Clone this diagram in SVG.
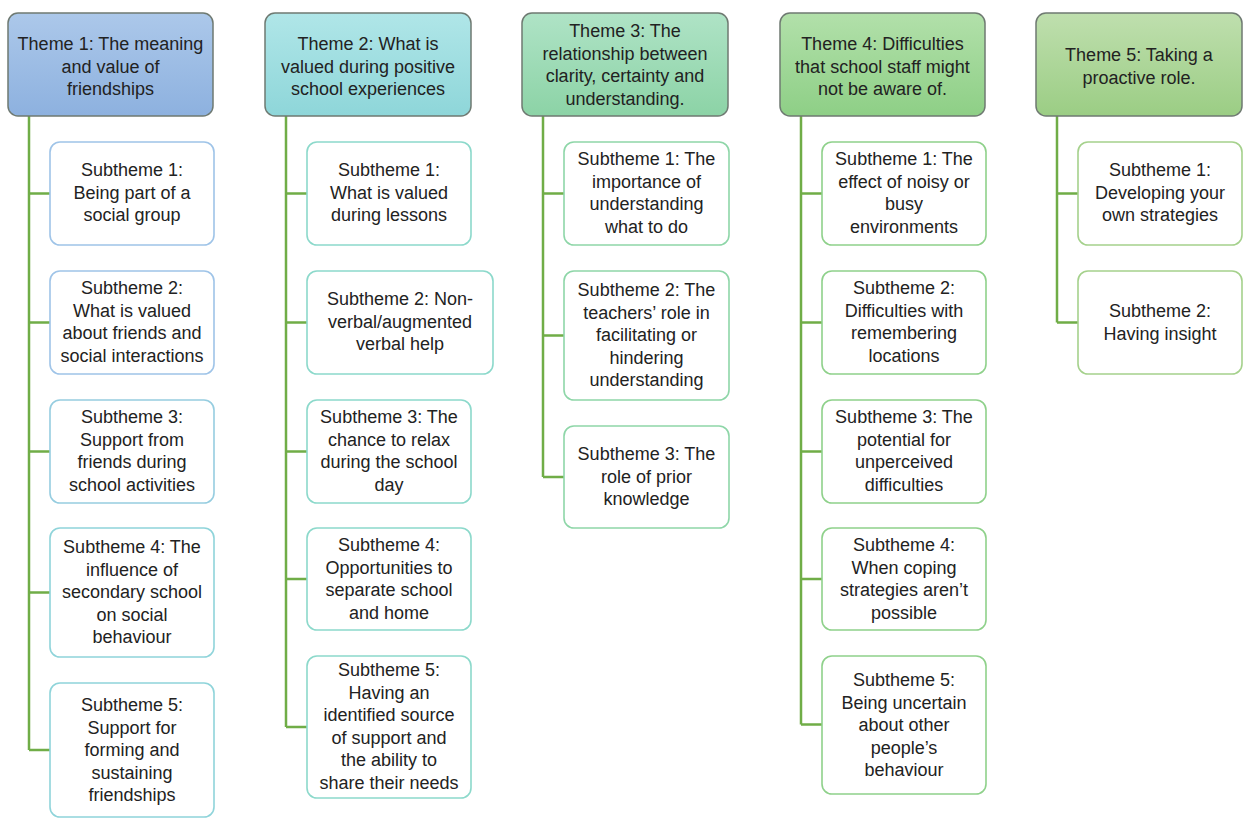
<svg xmlns="http://www.w3.org/2000/svg" width="1246" height="818" viewBox="0 0 1246 818">
<defs>
<linearGradient id="g1" x1="0" y1="0" x2="0" y2="1"><stop offset="0" stop-color="#acc8ea"/><stop offset="1" stop-color="#8db1df"/></linearGradient>
<linearGradient id="g2" x1="0" y1="0" x2="0" y2="1"><stop offset="0" stop-color="#b0e6e8"/><stop offset="1" stop-color="#8ed6d9"/></linearGradient>
<linearGradient id="g3" x1="0" y1="0" x2="0" y2="1"><stop offset="0" stop-color="#afe3c6"/><stop offset="1" stop-color="#8cd3a6"/></linearGradient>
<linearGradient id="g4" x1="0" y1="0" x2="0" y2="1"><stop offset="0" stop-color="#b2e0aa"/><stop offset="1" stop-color="#8ecf86"/></linearGradient>
<linearGradient id="g5" x1="0" y1="0" x2="0" y2="1"><stop offset="0" stop-color="#bfdfae"/><stop offset="1" stop-color="#9bcd84"/></linearGradient>
</defs>
<style>
text{font-family:"Liberation Sans",Arial,sans-serif;font-size:18px;fill:#222;text-anchor:middle}
.th{stroke:#6f7a72;stroke-width:1.5}
.st{fill:#fff;stroke-width:1.6}
.c1{stroke:#9fc4e8}.c1b{stroke:#96cde0}.c1c{stroke:#8fd4da}
.c2{stroke:#8cd9cb}.c3{stroke:#8ed6a8}.c4{stroke:#8fd18b}.c5{stroke:#a5d18c}
.conn{fill:none;stroke:#70ad47;stroke-width:2.5}
</style>
<g id="connectors">
<path class="conn" d="M29 116V750M29 193.5H50M29 322.5H50M29 451.5H50M29 592.5H50M29 750H50"/>
<path class="conn" d="M286 116V727M286 193.5H307M286 322.5H307M286 451.5H307M286 579H307M286 727H307"/>
<path class="conn" d="M543 116V477M543 193.5H564M543 335.5H564M543 477H564"/>
<path class="conn" d="M801 116V724.5M801 193.5H822M801 322.5H822M801 451.5H822M801 579H822M801 724.5H822"/>
<path class="conn" d="M1057 116V322.5M1057 193.5H1078M1057 322.5H1078"/>
</g>
<g id="theme1"><rect class="th" x="8" y="13" width="205" height="103" rx="10" fill="url(#g1)"/><text x="110.5"><tspan x="110.5" y="50">Theme 1: The meaning</tspan><tspan x="110.5" y="72.5">and value of</tspan><tspan x="110.5" y="95">friendships</tspan></text></g>
<g id="theme2"><rect class="th" x="265" y="13" width="206" height="103" rx="10" fill="url(#g2)"/><text><tspan x="368" y="50">Theme 2: What is</tspan><tspan x="368" y="72.5">valued during positive</tspan><tspan x="368" y="95">school experiences</tspan></text></g>
<g id="theme3"><rect class="th" x="522" y="13" width="206" height="103" rx="10" fill="url(#g3)"/><text><tspan x="625" y="37">Theme 3: The</tspan><tspan x="625" y="59.5">relationship between</tspan><tspan x="625" y="82">clarity, certainty and</tspan><tspan x="625" y="104.5">understanding.</tspan></text></g>
<g id="theme4"><rect class="th" x="780" y="13" width="205" height="103" rx="10" fill="url(#g4)"/><text><tspan x="882.5" y="50">Theme 4: Difficulties</tspan><tspan x="882.5" y="72.5">that school staff might</tspan><tspan x="882.5" y="95">not be aware of.</tspan></text></g>
<g id="theme5"><rect class="th" x="1036" y="13" width="206" height="103" rx="10" fill="url(#g5)"/><text><tspan x="1139" y="61">Theme 5: Taking a</tspan><tspan x="1139" y="83.5">proactive role.</tspan></text></g>

<g id="t1s1"><rect class="st c1" x="50" y="142" width="164" height="103" rx="10"/><text><tspan x="132" y="176">Subtheme 1:</tspan><tspan x="132" y="198.5">Being part of a</tspan><tspan x="132" y="221">social group</tspan></text></g>
<g id="t1s2"><rect class="st c1" x="50" y="271" width="164" height="103" rx="10"/><text><tspan x="132" y="294">Subtheme 2:</tspan><tspan x="132" y="316.5">What is valued</tspan><tspan x="132" y="339">about friends and</tspan><tspan x="132" y="361.5">social interactions</tspan></text></g>
<g id="t1s3"><rect class="st c1b" x="50" y="400" width="164" height="103" rx="10"/><text><tspan x="132" y="423">Subtheme 3:</tspan><tspan x="132" y="445.5">Support from</tspan><tspan x="132" y="468">friends during</tspan><tspan x="132" y="490.5">school activities</tspan></text></g>
<g id="t1s4"><rect class="st c1c" x="50" y="528" width="164" height="129" rx="10"/><text><tspan x="132" y="553">Subtheme 4: The</tspan><tspan x="132" y="575.5">influence of</tspan><tspan x="132" y="598">secondary school</tspan><tspan x="132" y="620.5">on social</tspan><tspan x="132" y="643">behaviour</tspan></text></g>
<g id="t1s5"><rect class="st c1c" x="50" y="683" width="164" height="134" rx="10"/><text><tspan x="132" y="711">Subtheme 5:</tspan><tspan x="132" y="733.5">Support for</tspan><tspan x="132" y="756">forming and</tspan><tspan x="132" y="778.5">sustaining</tspan><tspan x="132" y="801">friendships</tspan></text></g>

<g id="t2s1"><rect class="st c2" x="307" y="142" width="164" height="103" rx="10"/><text><tspan x="389" y="176">Subtheme 1:</tspan><tspan x="389" y="198.5">What is valued</tspan><tspan x="389" y="221">during lessons</tspan></text></g>
<g id="t2s2"><rect class="st c2" x="307" y="271" width="186" height="103" rx="10"/><text><tspan x="400" y="305">Subtheme 2: Non-</tspan><tspan x="400" y="327.5">verbal/augmented</tspan><tspan x="400" y="350">verbal help</tspan></text></g>
<g id="t2s3"><rect class="st c2" x="307" y="400" width="164" height="103" rx="10"/><text><tspan x="389" y="423">Subtheme 3: The</tspan><tspan x="389" y="445.5">chance to relax</tspan><tspan x="389" y="468">during the school</tspan><tspan x="389" y="490.5">day</tspan></text></g>
<g id="t2s4"><rect class="st c2" x="307" y="528" width="164" height="102" rx="10"/><text><tspan x="389" y="551">Subtheme 4:</tspan><tspan x="389" y="573.5">Opportunities to</tspan><tspan x="389" y="596">separate school</tspan><tspan x="389" y="618.5">and home</tspan></text></g>
<g id="t2s5"><rect class="st c2" x="307" y="656" width="164" height="142" rx="10"/><text><tspan x="389" y="676">Subtheme 5:</tspan><tspan x="389" y="698.5">Having an</tspan><tspan x="389" y="721">identified source</tspan><tspan x="389" y="743.5">of support and</tspan><tspan x="389" y="766">the ability to</tspan><tspan x="389" y="788.5">share their needs</tspan></text></g>

<g id="t3s1"><rect class="st c3" x="564" y="142" width="165" height="103" rx="10"/><text><tspan x="646.5" y="165">Subtheme 1: The</tspan><tspan x="646.5" y="187.5">importance of</tspan><tspan x="646.5" y="210">understanding</tspan><tspan x="646.5" y="232.5">what to do</tspan></text></g>
<g id="t3s2"><rect class="st c3" x="564" y="271" width="165" height="129" rx="10"/><text><tspan x="646.5" y="296">Subtheme 2: The</tspan><tspan x="646.5" y="318.5">teachers’ role in</tspan><tspan x="646.5" y="341">facilitating or</tspan><tspan x="646.5" y="363.5">hindering</tspan><tspan x="646.5" y="386">understanding</tspan></text></g>
<g id="t3s3"><rect class="st c3" x="564" y="426" width="165" height="102" rx="10"/><text><tspan x="646.5" y="460">Subtheme 3: The</tspan><tspan x="646.5" y="482.5">role of prior</tspan><tspan x="646.5" y="505">knowledge</tspan></text></g>

<g id="t4s1"><rect class="st c4" x="822" y="142" width="164" height="103" rx="10"/><text><tspan x="904" y="165">Subtheme 1: The</tspan><tspan x="904" y="187.5">effect of noisy or</tspan><tspan x="904" y="210">busy</tspan><tspan x="904" y="232.5">environments</tspan></text></g>
<g id="t4s2"><rect class="st c4" x="822" y="271" width="164" height="103" rx="10"/><text><tspan x="904" y="294">Subtheme 2:</tspan><tspan x="904" y="316.5">Difficulties with</tspan><tspan x="904" y="339">remembering</tspan><tspan x="904" y="361.5">locations</tspan></text></g>
<g id="t4s3"><rect class="st c4" x="822" y="400" width="164" height="103" rx="10"/><text><tspan x="904" y="423">Subtheme 3: The</tspan><tspan x="904" y="445.5">potential for</tspan><tspan x="904" y="468">unperceived</tspan><tspan x="904" y="490.5">difficulties</tspan></text></g>
<g id="t4s4"><rect class="st c4" x="822" y="528" width="164" height="102" rx="10"/><text><tspan x="904" y="551">Subtheme 4:</tspan><tspan x="904" y="573.5">When coping</tspan><tspan x="904" y="596">strategies aren’t</tspan><tspan x="904" y="618.5">possible</tspan></text></g>
<g id="t4s5"><rect class="st c4" x="822" y="656" width="164" height="138" rx="10"/><text><tspan x="904" y="686">Subtheme 5:</tspan><tspan x="904" y="708.5">Being uncertain</tspan><tspan x="904" y="731">about other</tspan><tspan x="904" y="753.5">people’s</tspan><tspan x="904" y="776">behaviour</tspan></text></g>

<g id="t5s1"><rect class="st c5" x="1078" y="142" width="164" height="103" rx="10"/><text><tspan x="1160" y="176">Subtheme 1:</tspan><tspan x="1160" y="198.5">Developing your</tspan><tspan x="1160" y="221">own strategies</tspan></text></g>
<g id="t5s2"><rect class="st c5" x="1078" y="271" width="164" height="103" rx="10"/><text><tspan x="1160" y="317">Subtheme 2:</tspan><tspan x="1160" y="339.5">Having insight</tspan></text></g>
</svg>
